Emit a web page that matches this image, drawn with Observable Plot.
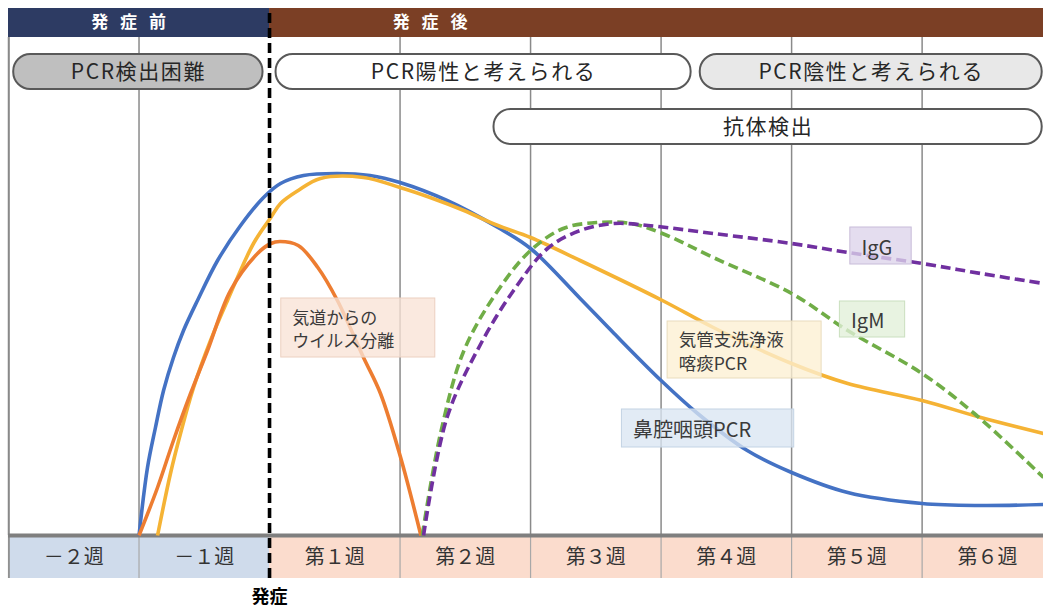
<!DOCTYPE html>
<html><head><meta charset="utf-8">
<script src="https://cdn.jsdelivr.net/npm/d3@7"></script>
<script src="https://cdn.jsdelivr.net/npm/@observablehq/plot@0.6"></script>
<style>html,body{margin:0;padding:0;background:#fff;overflow:hidden}
.pilltext text{letter-spacing:1.6px}</style>
</head><body><div id="chart"></div>
<script>
// ---- data (x: weeks relative to onset, y: relative level 0-100) ----
const weekLabels = ["－２週","－１週","第１週","第２週","第３週","第４週","第５週","第６週"];
const weekCenters = [-1.5,-0.5,0.5,1.5,2.5,3.5,4.5,5.5];
const gridWeeks = [-2,-1,1,2,3,4,5];

const phaseLabels = ["発\u2002\u2009症\u2002\u2009前","発\u2002\u2009症\u2002\u2009後"];
const phaseStart = [-2, 0];
const phaseEnd = [0, 5.93];
const phaseLabelX = [-1.08, 1.23];

const pillLabels = ["PCR検出困難","PCR陽性と考えられる","PCR陰性と考えられる","抗体検出"];
const pillStart = [-1.96, 0.05, 3.30, 1.72];
const pillEnd   = [-0.05, 3.23, 5.92, 5.92];
const pillRow   = [1, 1, 1, 2];

// 鼻腔咽頭PCR
const blueT = [-1.0,-0.935,-0.874,-0.812,-0.736,-0.659,-0.552,-0.398,-0.222,-0.046,0.084,0.26,0.52,0.77,1.0,1.36,1.75,2.0,2.38,2.64,3.0,3.28,3.66,4.0,4.43,5.0,5.45,5.93];
const blueV = [0,13.6,21.6,29,35.6,41,47,55,62,67.6,70.4,72,72.4,72,70.6,67,61.6,57.4,47.4,40.4,31,24.4,17,12.6,8.6,6.4,6,6.2];

// 気道からのウイルス分離
const orangeT = [-1.0,-0.858,-0.736,-0.605,-0.475,-0.299,-0.092,0.01,0.08,0.22,0.37,0.52,0.72,0.85,1.0,1.16];
const orangeV = [0,9.6,19,28.4,37,49,56.4,58.4,58.8,58,53.6,47,35.6,28.4,16,0];

// 気管支洗浄液・喀痰PCR
const yellowT = [-0.858,-0.759,-0.682,-0.582,-0.452,-0.322,-0.123,0.01,0.084,0.22,0.39,0.72,1.0,1.23,1.49,1.75,2.0,2.38,3.01,3.4,4.0,4.43,5.0,5.45,5.93];
const yellowV = [0,12.4,20.4,29.6,39,47,58.4,63.6,66.4,69,71.4,71.6,69.6,67.6,65,62,59.6,55,47,41.6,34.4,30.4,27,23.6,20.4];

// IgM
const igmT = [1.17,1.31,1.49,1.75,2.0,2.25,2.51,2.77,3.01,3.4,4.0,4.43,5.0,5.4,5.93];
const igmV = [0,20.4,37,49,57,61.4,62.6,62.4,60.4,55.6,48.4,41,32.4,24.4,11.6];

// IgG
const iggT = [1.18,1.36,1.62,1.87,2.13,2.38,2.64,2.9,3.4,4.0,4.43,5.0,5.45,5.93];
const iggV = [0,23.6,38.4,49,57.4,61,62.4,62,60.4,58.4,56.6,54.4,52.4,50.4];

const seriesLabels = ["気道からの\nウイルス分離","鼻腔咽頭PCR","気管支洗浄液\n喀痰PCR","IgM","IgG"];
const labelX1 = [0.09, 2.70, 3.05, 4.37, 4.45];
const labelX2 = [1.27, 4.02, 4.23, 4.87, 4.92];
const labelY1 = [35.6, 17.6, 31.4, 39.6, 54.2];
const labelY2 = [47.4, 25.2, 42.8, 46.8, 61.6];

// ---- styles ----
const colors = {blue:"#4472c4", orange:"#ed7d31", yellow:"#f5b335", green:"#70ad47", purple:"#7030a0"};
const pillFills = ["#bfbfbf","#ffffff","#e8e8e8","#ffffff"];
const labelFills = ["#f8e3d6","#dae6f2","#fcefd2","#e1efd8","#ddd3ea"];
const labelStrokes = ["#ecd0c0","#c3d3e4","#e9dcbd","#cadfbf","#c8bcd9"];
const labelSizes = [17, 20, 17.5, 20, 20];

const idx = n => d3.range(n);
const rowY1 = r => r === 1 ? 89.2 : 78.2;
const rowY2 = r => r === 1 ? 96.2 : 85.2;
const X0 = -2, X1 = 5.93;

const line = (T, V, c, dash) => Plot.line(idx(T.length), {
  x: i => T[i], y: i => V[i], stroke: c, strokeWidth: 3.6,
  curve: "catmull-rom", strokeDasharray: dash, strokeLinecap: "butt"
});

const chart = Plot.plot({
  width: 1043, height: 608,
  marginLeft: 8, marginRight: 0, marginTop: 35, marginBottom: 73,
  x: {domain: [X0, X1], axis: null},
  y: {domain: [0, 100], axis: null},
  style: {fontFamily: "'Noto Sans CJK JP','Noto Sans',sans-serif", background: "#fff", overflow: "visible"},
  marks: [
    // header band
    Plot.rect(idx(2), {x1: i => phaseStart[i], x2: i => phaseEnd[i], y1: 99.6, y2: 105.4,
      fill: i => ["#2d3b63","#7b3f25"][i]}),
    Plot.text(idx(2), {x: i => phaseLabelX[i], y: 102.6, text: i => phaseLabels[i],
      fill: "#fff", fontSize: 17, fontWeight: "bold"}),
    // bottom band
    Plot.rect(idx(2), {x1: i => phaseStart[i], x2: i => phaseEnd[i], y1: -8.6, y2: -0.4,
      fill: i => ["#cfdbeb","#fbdccd"][i]}),
    // grid
    Plot.ruleX(gridWeeks, {x: d => d, y1: 0, y2: 99.6, stroke: "#8a8a8a", strokeWidth: 1.5}),
    Plot.ruleX(gridWeeks, {x: d => d, y1: -8.6, y2: 0, stroke: "#a8a8a8", strokeWidth: 1.2}),
    Plot.ruleX([X0], {x: d => d + 0.004, y1: -8.6, y2: 99.6, stroke: "#8a8a8a", strokeWidth: 1.5}),
    Plot.text(idx(8), {x: i => weekCenters[i], y: -4.5, text: i => weekLabels[i],
      fill: "#333", fontSize: 20}),
    // pills
    Plot.rect(idx(4), {x1: i => pillStart[i], x2: i => pillEnd[i], y1: i => rowY1(pillRow[i]), y2: i => rowY2(pillRow[i]),
      fill: i => pillFills[i], stroke: "#595959", strokeWidth: 2, rx: 17}),
    Plot.text(idx(4), {x: i => (pillStart[i] + pillEnd[i]) / 2, y: i => (rowY1(pillRow[i]) + rowY2(pillRow[i])) / 2,
      text: i => pillLabels[i], fill: "#262626", fontSize: 21, className: "pilltext"}),
    // baseline
    Plot.ruleY([0], {x1: X0, x2: X1, stroke: "#7f7f7f", strokeWidth: 4}),
    // curves
    line(blueT, blueV, colors.blue),
    line(yellowT, yellowV, colors.yellow),
    line(orangeT, orangeV, colors.orange),
    line(igmT, igmV, colors.green, "10,5"),
    line(iggT, iggV, colors.purple, "10,5"),
    // labels
    Plot.rect(idx(5), {x1: i => labelX1[i], x2: i => labelX2[i], y1: i => labelY1[i], y2: i => labelY2[i],
      fill: i => labelFills[i], fillOpacity: 0.78, stroke: i => labelStrokes[i], strokeWidth: 1}),
    Plot.text(idx(5), {x: i => labelX1[i] + 0.085, y: i => (labelY1[i] + labelY2[i]) / 2,
      text: i => seriesLabels[i], textAnchor: "start", fill: "#3a3a3a", fontSize: i => labelSizes[i], lineHeight: 1.38}),
    // onset
    Plot.ruleX([0], {x: d => d, y1: -8.6, y2: 105.4, stroke: "#000", strokeWidth: 3.6, strokeDasharray: "10,5"}),
    Plot.text(["発症"], {x: 0, y: -12.4, text: d => d, fill: "#000", fontSize: 18, fontWeight: "bold"})
  ]
});
document.getElementById("chart").appendChild(chart);
</script>
</body></html>
